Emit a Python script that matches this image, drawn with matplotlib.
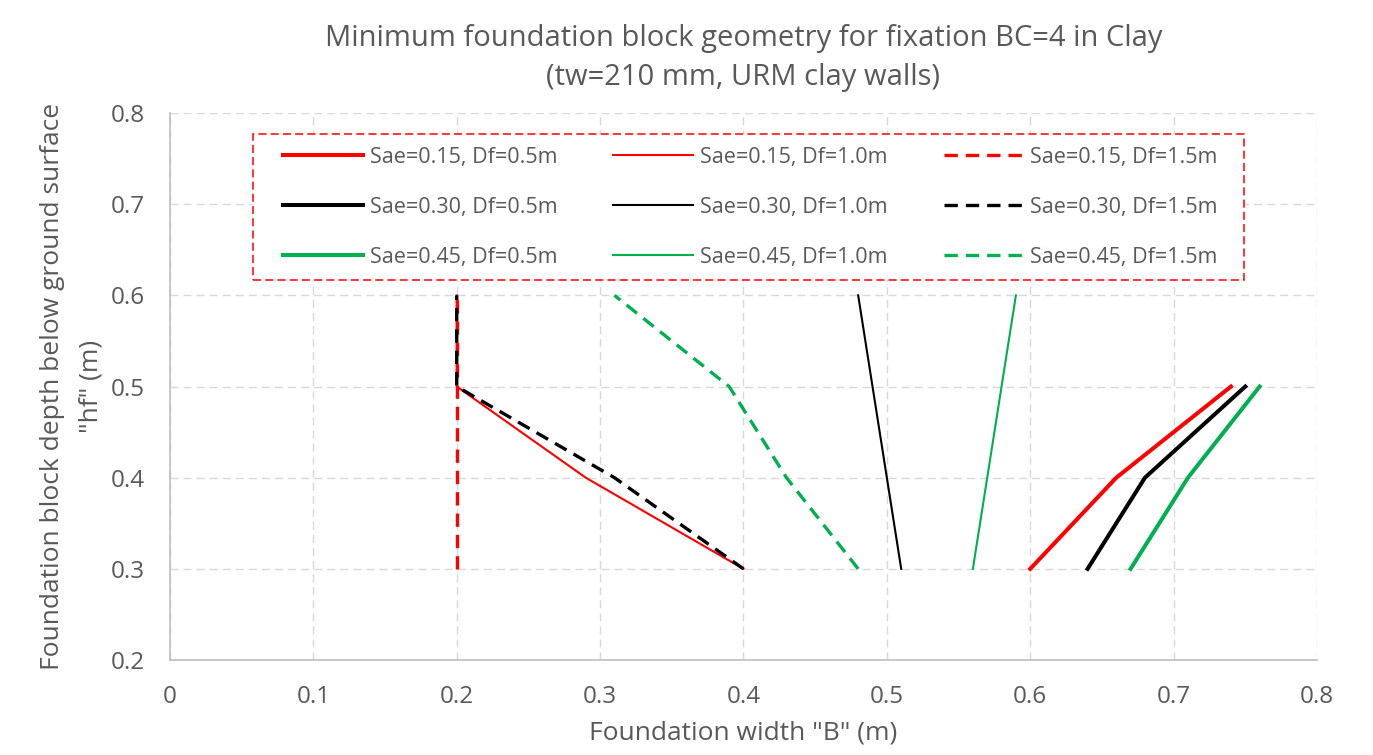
import numpy as np
import matplotlib.pyplot as plt
from matplotlib.patches import Rectangle

plt.rcParams['font.family'] = ['Open Sans', 'DejaVu Sans']

# depth values (m)
hf_short = [0.3, 0.4, 0.5]
hf_long = [0.3, 0.4, 0.5, 0.6]

# foundation width B (m), Df = 0.5 m
b_015_05 = [0.60, 0.66, 0.74]
b_030_05 = [0.64, 0.68, 0.75]
b_045_05 = [0.67, 0.71, 0.76]

# Df = 1.0 m
b_015_10 = [0.40, 0.29, 0.20, 0.20]
b_030_10 = [0.51, 0.50, 0.49, 0.48]
b_045_10 = [0.56, 0.57, 0.58, 0.59]

# Df = 1.5 m
b_015_15 = [0.20, 0.20, 0.20, 0.20]
b_030_15 = [0.40, 0.31, 0.20, 0.20]
b_045_15 = [0.48, 0.43, 0.39, 0.31]

red = '#FF0000'
black = '#000000'
green = '#00B050'
txt = '#595959'

fig = plt.figure(figsize=(13.73, 7.55), dpi=100)
ax = fig.add_axes([0.1238, 0.1258, 0.8354, 0.7245])

thick, thin, dash = 2.9, 1.5, 2.4
dsh = (4, 2.4)

ax.plot(b_015_05, hf_short, color=red, lw=thick, label='Sae=0.15, Df=0.5m')
ax.plot(b_030_05, hf_short, color=black, lw=thick, label='Sae=0.30, Df=0.5m')
ax.plot(b_045_05, hf_short, color=green, lw=thick, label='Sae=0.45, Df=0.5m')
ax.plot(b_015_10, hf_long, color=red, lw=thin, label='Sae=0.15, Df=1.0m')
ax.plot(b_030_10, hf_long, color=black, lw=thin, label='Sae=0.30, Df=1.0m')
ax.plot(b_045_10, hf_long, color=green, lw=thin, label='Sae=0.45, Df=1.0m')
ax.plot(b_015_15, hf_long, color=red, lw=dash, dashes=dsh, label='Sae=0.15, Df=1.5m')
ax.plot(b_030_15, hf_long, color=black, lw=dash, dashes=dsh, label='Sae=0.30, Df=1.5m')
ax.plot(b_045_15, hf_long, color=green, lw=dash, dashes=dsh, label='Sae=0.45, Df=1.5m')

ax.set_xlim(0, 0.8)
ax.set_ylim(0.2, 0.8)
ax.set_xticks(np.arange(0, 0.81, 0.1))
ax.set_yticks(np.arange(0.2, 0.81, 0.1))
ax.set_xticklabels(['0', '0.1', '0.2', '0.3', '0.4', '0.5', '0.6', '0.7', '0.8'])
ax.set_yticklabels(['0.2', '0.3', '0.4', '0.5', '0.6', '0.7', '0.8'])
ax.tick_params(length=0, labelsize=17.5, labelcolor=txt)
ax.tick_params(axis='x', pad=18)
ax.tick_params(axis='y', pad=18)

ax.grid(True, color='#D9D9D9', lw=1.0, dashes=(5.8, 3.6))
ax.set_axisbelow(True)
for s in ['top', 'right']:
    ax.spines[s].set_visible(False)
for s in ['left', 'bottom']:
    ax.spines[s].set_color('#BFBFBF')
    ax.spines[s].set_linewidth(1.2)

ax.set_xlabel('Foundation width "B" (m)', fontsize=19, color=txt, labelpad=8)
ax.set_ylabel('Foundation block depth below ground surface\n"hf" (m)', fontsize=19,
              color=txt, labelpad=5, linespacing=1.75)
ax.set_title('Minimum foundation block geometry for fixation BC=4 in Clay\n(tw=210 mm, URM clay walls)',
             fontsize=21, color=txt, pad=20, linespacing=1.45)

# legend box
box = Rectangle((0.0724, 0.6947), 0.864, 0.267, transform=ax.transAxes,
                facecolor='white', edgecolor=red, lw=1.1, ls=(0, (5.3, 2.7)), zorder=3)
ax.add_patch(box)

leg = ax.legend(loc='center', bbox_to_anchor=(0.0985, 0.722, 0.8152, 0.212),
                mode='expand', ncol=3, fontsize=15.5, frameon=False,
                handlelength=3.7, handletextpad=0.33, labelspacing=1.35,
                borderpad=0, borderaxespad=0, labelcolor=txt)
leg.set_zorder(4)

fig.savefig('out.png', dpi=100)
